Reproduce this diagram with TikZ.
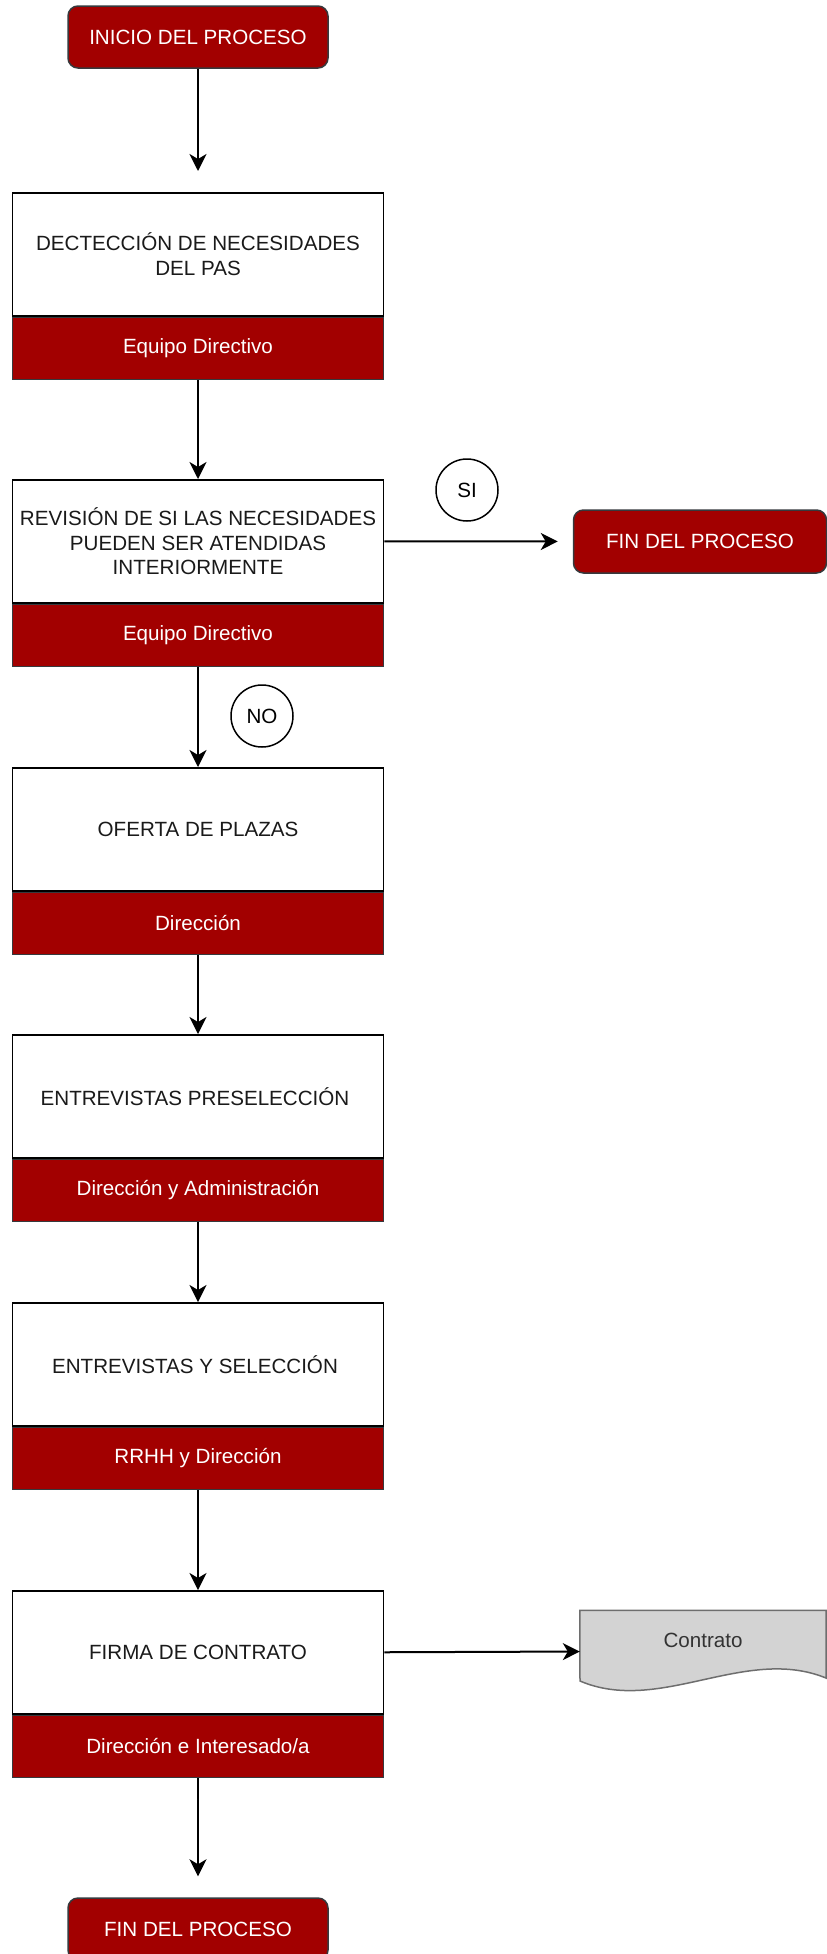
\documentclass[tikz,border=0pt]{standalone}
\usepackage{fontspec}
\setmainfont{Liberation Sans}
\usetikzlibrary{arrows.meta}
\definecolor{procred}{HTML}{A20000}
\definecolor{edgegrey}{HTML}{36393D}
\definecolor{docfill}{HTML}{D3D3D3}
\definecolor{docedge}{HTML}{6E6E6E}
\definecolor{doctext}{HTML}{333333}
\definecolor{bodytext}{HTML}{1A1A1A}
\tikzset{
  basefont/.style={font=\fontsize{20.6}{24.5}\selectfont},
  terminal/.style={basefont, rectangle, rounded corners=10, draw=edgegrey, line width=1.5,
    fill=procred, text=white, minimum width=260, minimum height=62, inner sep=0},
  task/.style={basefont, rectangle, draw=black, line width=1.5, fill=white, text=bodytext,
    minimum width=371, minimum height=123, inner sep=0, align=center, anchor=north},
  owner/.style={basefont, rectangle, draw=edgegrey, line width=1.5, fill=procred, text=white,
    minimum width=371, minimum height=62, inner sep=0, anchor=north},
  answer/.style={basefont, circle, draw=black, line width=1.5, fill=white, minimum size=62, inner sep=0},
  flow/.style={line width=2, -{Stealth[length=17,width=17,inset=5]}}
}
\begin{document}
\begin{tikzpicture}[x=1pt,y=-1pt]
\useasboundingbox (0,0) rectangle (827,1954);

% start and end terminals
\node[terminal] (start) at (198,37) {INICIO DEL PROCESO};
\node[terminal, minimum width=253, minimum height=63] (finA) at (700,541.5) {FIN DEL PROCESO};
\node[terminal] (finB) at (198,1929) {FIN DEL PROCESO};

% process steps: task on top, responsible below
\node[task] (t1) at (198,192) {DECTECCIÓN DE NECESIDADES\\DEL PAS};
\node[owner] (o1) at (t1.south) {Equipo Directivo};

\node[task] (t2) at (198,479) {REVISIÓN DE SI LAS NECESIDADES\\PUEDEN SER ATENDIDAS\\INTERIORMENTE};
\node[owner] (o2) at (t2.south) {Equipo Directivo};

\node[task] (t3) at (198,767) {OFERTA DE PLAZAS};
\node[owner] (o3) at (t3.south) {Dirección};

\node[task] (t4) at (198,1034) {\hspace{-6pt}ENTREVISTAS PRESELECCIÓN};
\node[owner] (o4) at (t4.south) {Dirección y Administración};

\node[task] (t5) at (198,1302) {\hspace{-6pt}ENTREVISTAS Y SELECCIÓN};
\node[owner] (o5) at (t5.south) {RRHH y Dirección};

\node[task] (t6) at (198,1590) {FIRMA DE CONTRATO};
\node[owner] (o6) at (t6.south) {Dirección e Interesado/a};

% decision answers
\node[answer] (si) at (467,490) {SI};
\node[answer] (no) at (262,716) {NO};

% output document
\node[minimum width=246, minimum height=82, inner sep=0] (doc) at (703,1651.5) {};
\draw[line width=1.5, draw=docedge, fill=docfill]
  (doc.north west) -- (doc.north east) -- (826,1678)
  .. controls (745,1645) and (660,1715) .. (580,1681) -- cycle;
\node[basefont, text=doctext] (doclabel) at (703,1640) {Contrato};

% connectors
\draw[flow, shorten >=21] (start) -- (t1);
\draw[flow] (o1) -- (t2);
\draw[flow, shorten >=15] (t2.east) -- (finA.west);
\draw[flow] (o2) -- (t3);
\draw[flow] (o3) -- (t4);
\draw[flow] (o4) -- (t5);
\draw[flow] (o5) -- (t6);
\draw[flow] (t6.east) -- (doc.west);
\draw[flow, shorten >=21] (o6) -- (finB);
\end{tikzpicture}
\end{document}
